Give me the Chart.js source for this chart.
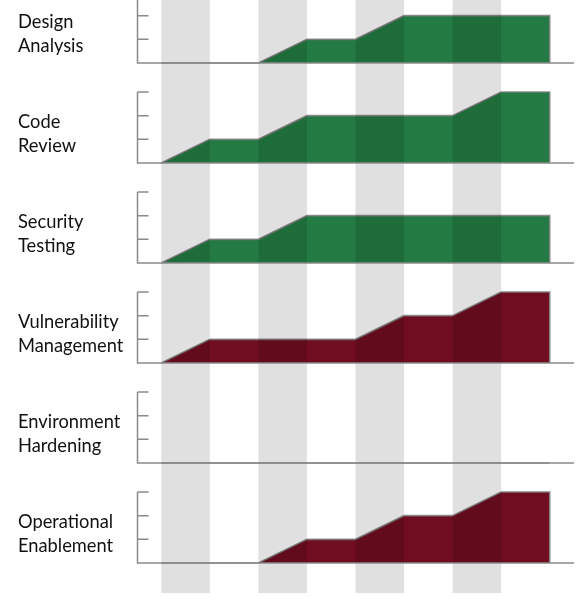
<!DOCTYPE html>
<html>
<head>
<meta charset="utf-8">
<script src="https://cdn.jsdelivr.net/npm/chart.js@4.4.1/dist/chart.umd.min.js"></script>
<style>
  html, body { margin: 0; padding: 0; background: #fff; }
  #wrap { position: relative; width: 580px; height: 598px; overflow: hidden; }
  #chart { position: absolute; left: 0; top: 0; }
  .lbl {
    position: absolute; left: 18px;
    font-family: Lato, "Open Sans", sans-serif; font-size: 18.3px; line-height: 24.5px;
    color: #111; white-space: nowrap;
  }
</style>
</head>
<body>
<div id="wrap">
  <canvas id="chart" width="580" height="598"></canvas>
</div>
<script>
// steps along the x axis (no labels in the picture)
const steps = [0, 1, 2, 3, 4, 5, 6, 7, 8];

// one row per practice
const rowNames = [
  ["Design", "Analysis"],
  ["Code", "Review"],
  ["Security", "Testing"],
  ["Vulnerability", "Management"],
  ["Environment", "Hardening"],
  ["Operational", "Enablement"]
];

const designAnalysis     = [0, 0, 0, 1, 1, 2, 2, 2, 2];
const codeReview         = [0, 1, 1, 2, 2, 2, 2, 3, 3];
const securityTesting    = [0, 1, 1, 2, 2, 2, 2, 2, 2];
const vulnManagement     = [0, 1, 1, 1, 1, 2, 2, 3, 3];
const envHardening       = [0, 0, 0, 0, 0, 0, 0, 0, 0];
const operationalEnable  = [0, 0, 0, 1, 1, 2, 2, 3, 3];

const rowValues = [designAnalysis, codeReview, securityTesting, vulnManagement, envHardening, operationalEnable];
const rowColors = ["#237b43", "#237b43", "#237b43", "#700d21", "#700d21", "#700d21"];

const levelTicks = [1, 2, 3];    // small marks on each y axis
const bandPairs = [[0, 1], [2, 3], [4, 5], [6, 7]]; // shaded columns

// layout of the stacked rows
const ROW_PITCH = 100;   // px between baselines
const FIRST_BASE = 63;   // baseline of first row
const LEVEL_PX = 71 / 3; // px per level
const AREA_BOTTOM = 593;

const scales = {
  x: { type: 'linear', display: false, min: -0.5, max: 8.5 }
};
rowValues.forEach((v, r) => {
  const base = FIRST_BASE + ROW_PITCH * r;
  scales['y' + r] = {
    type: 'linear', display: false,
    min: -(AREA_BOTTOM - base) / LEVEL_PX,
    max: base / LEVEL_PX
  };
});

const datasets = rowValues.map((vals, r) => {
  const pts = steps.map((s, i) => ({ x: s, y: vals[i] }));
  pts.push({ x: steps[steps.length - 1], y: 0 }); // close right edge
  return {
    data: pts,
    yAxisID: 'y' + r,
    backgroundColor: rowColors[r],
    borderColor: 'rgba(125,125,125,0.85)',
    borderWidth: 1.6,
    fill: 'origin',
    tension: 0,
    pointRadius: 0,
    clip: false
  };
});

// grey columns laid over the areas
const bandsPlugin = {
  id: 'bands',
  afterDatasetsDraw(chart) {
    const { ctx, chartArea, scales } = chart;
    ctx.save();
    ctx.fillStyle = 'rgba(0,0,0,0.12)';
    bandPairs.forEach(([a, b]) => {
      const x0 = scales.x.getPixelForValue(a);
      const x1 = scales.x.getPixelForValue(b);
      ctx.fillRect(x0, 0, x1 - x0, chartArea.bottom);
    });
    ctx.restore();
  }
};

// y axis line with inward ticks + baseline for every row
const rowAxesPlugin = {
  id: 'rowAxes',
  afterDraw(chart) {
    const { ctx, chartArea, scales } = chart;
    ctx.save();
    ctx.strokeStyle = '#8a8a8a';
    ctx.lineWidth = 1.5;
    const left = chartArea.left + 0.5;
    rowValues.forEach((v, r) => {
      const ys = scales['y' + r];
      const y0 = ys.getPixelForValue(0);
      const yTop = ys.getPixelForValue(levelTicks[levelTicks.length - 1]);
      ctx.beginPath();
      ctx.moveTo(left, yTop);
      ctx.lineTo(left, y0);
      ctx.lineTo(chartArea.right, y0);
      levelTicks.forEach(t => {
        const y = ys.getPixelForValue(t);
        ctx.moveTo(left, y);
        ctx.lineTo(left + 11, y);
      });
      ctx.stroke();
    });
    ctx.restore();
  }
};

new Chart(document.getElementById('chart'), {
  type: 'line',
  data: { datasets },
  options: {
    responsive: false,
    animation: false,
    devicePixelRatio: 1,
    layout: { padding: { left: 137, right: 6, top: 0, bottom: 598 - AREA_BOTTOM } },
    scales,
    plugins: { legend: { display: false }, tooltip: { enabled: false } }
  },
  plugins: [bandsPlugin, rowAxesPlugin]
});

// row labels
const wrap = document.getElementById('wrap');
rowNames.forEach((lines, r) => {
  const d = document.createElement('div');
  d.className = 'lbl';
  d.style.top = (8.5 + ROW_PITCH * r) + 'px';
  d.innerHTML = lines.join('<br>');
  wrap.appendChild(d);
});
</script>
</body>
</html>
